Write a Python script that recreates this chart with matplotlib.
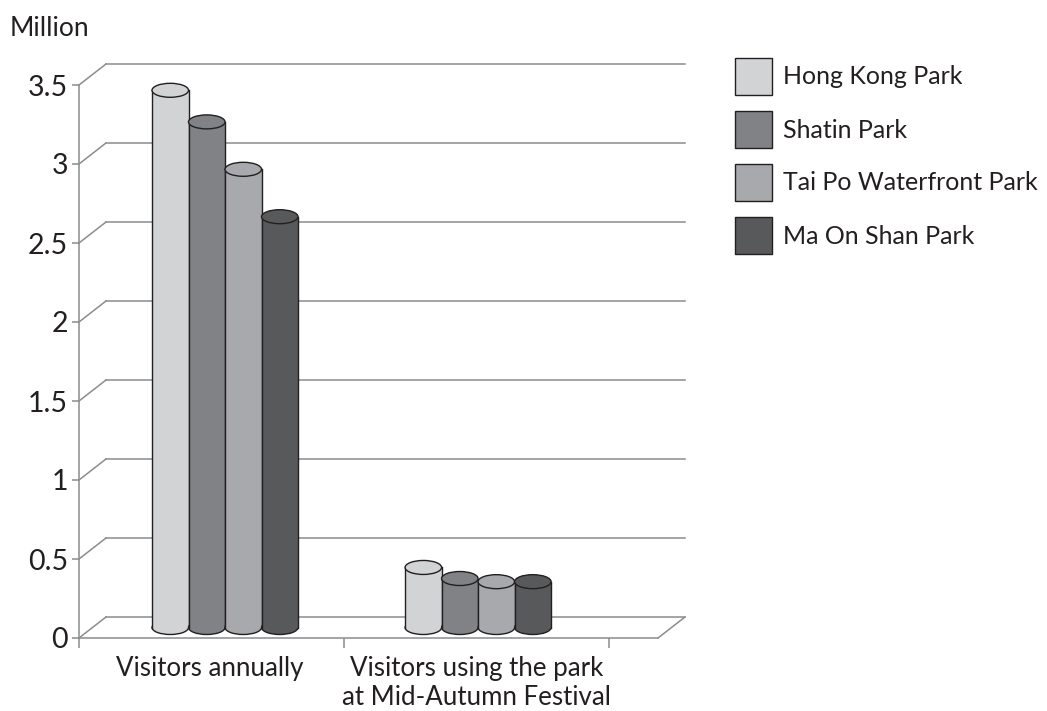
import matplotlib
matplotlib.use('Agg')
import matplotlib.pyplot as plt
from matplotlib.patches import Ellipse, Rectangle, Patch
from matplotlib.lines import Line2D
from matplotlib.transforms import IdentityTransform

plt.rcParams['font.family'] = 'Lato'

parks = ['Hong Kong Park', 'Shatin Park', 'Tai Po Waterfront Park', 'Ma On Shan Park']
colors = ['#d1d3d4', '#808285', '#a7a9ac', '#58595b']
annual = [3.4, 3.2, 2.9, 2.6]
festival = [0.38, 0.31, 0.29, 0.29]
categories = ['Visitors annually', 'Visitors using the park\nat Mid-Autumn Festival']
yticks = [0, 0.5, 1, 1.5, 2, 2.5, 3, 3.5]
yticklabels = ['0', '0.5', '1', '1.5', '2', '2.5', '3', '3.5']

W, H = 1047, 711
GRID = '#8a8c8e'
EDGE = '#231f20'
TEXT = '#231f20'

fig = plt.figure(figsize=(W / 100, H / 100), dpi=100)
ax = fig.add_axes([79 / W, (H - 638) / H, 579 / W, 553 / H])
ax.set_xlim(0, 579 / 265)
ax.set_ylim(0, 3.5)
ax.patch.set_visible(False)

for s in ['top', 'right']:
    ax.spines[s].set_visible(False)
for s in ['left', 'bottom']:
    ax.spines[s].set_color(GRID)
    ax.spines[s].set_linewidth(1.1)

ax.set_yticks(yticks)
ax.set_yticklabels(yticklabels, fontsize=20.5, color=TEXT)
ax.tick_params(axis='y', length=5, width=1.1, color=GRID, pad=3)
ax.set_xticks([0, 1, 2])
ax.set_xticklabels([])
ax.tick_params(axis='x', which='major', length=7, width=1.1, color=GRID)
ax.set_xticks([0.494, 1.5], minor=True)
ax.set_xticklabels(categories, minor=True, fontsize=18.6, color=TEXT, linespacing=1.22)
ax.tick_params(axis='x', which='minor', length=0, pad=13)

# fake 3d walls, offsets are in pixels
DX, DY = 27, 21
px = IdentityTransform()
xmax = ax.get_xlim()[1]


def seg(x0, y0, x1, y1, **kw):
    ax.add_line(Line2D([x0, x1], [y0, y1], transform=px, clip_on=False, **kw))


for v in yticks:
    x0, y0 = ax.transData.transform((0, v))
    x1, y1 = ax.transData.transform((xmax, v))
    seg(x0, y0, x0 + DX, y0 + DY, color=GRID, lw=1.1, zorder=1)
    seg(x0 + DX, y0 + DY, x1 + DX, y1 + DY, color=GRID, lw=1.1, zorder=1)
x1, y1 = ax.transData.transform((xmax, 0))
seg(x1, y1, x1 + DX, y1 + DY, color=GRID, lw=1.1, zorder=1)


def cylinder(x, v, color, z):
    # x, v in data units, body drawn in pixels from the transformed points
    cx, top = ax.transData.transform((x, v))
    _, base = ax.transData.transform((x, 0))
    cx += DX / 2
    top += DY / 2
    base += DY / 2
    w, h = 36.5, 14
    ax.add_patch(Ellipse((cx, base), w, h, fc=color, ec=EDGE, lw=1, transform=px, clip_on=False, zorder=z))
    ax.add_patch(Rectangle((cx - w / 2, base), w, top - base, fc=color, ec='none', transform=px, clip_on=False, zorder=z))
    seg(cx - w / 2, base, cx - w / 2, top, color=EDGE, lw=1, zorder=z)
    seg(cx + w / 2, base, cx + w / 2, top, color=EDGE, lw=1, zorder=z)
    ax.add_patch(Ellipse((cx, top), w, h, fc=color, ec=EDGE, lw=1, transform=px, clip_on=False, zorder=z))


bar_w = 36.5 / 265
for center, values in zip([0.5, 1.455], [annual, festival]):
    for i, v in enumerate(values):
        cylinder(center + (i - 1.5) * bar_w, v, colors[i], 3 + i)

fig.text(10 / W, (H - 29) / H, 'Million', fontsize=19, color=TEXT, va='center', ha='left')

handles = [Patch(fc=c, ec=EDGE, lw=1) for c in colors]
leg = fig.legend(handles, parks, loc='upper left', bbox_to_anchor=(735 / W, (H - 58) / H),
                 frameon=False, prop={'size': 18}, labelcolor=TEXT, borderpad=0, borderaxespad=0,
                 handlelength=1.48, handleheight=1.9, handletextpad=0.44, labelspacing=0.64)

fig.savefig('out.png', dpi=100)
